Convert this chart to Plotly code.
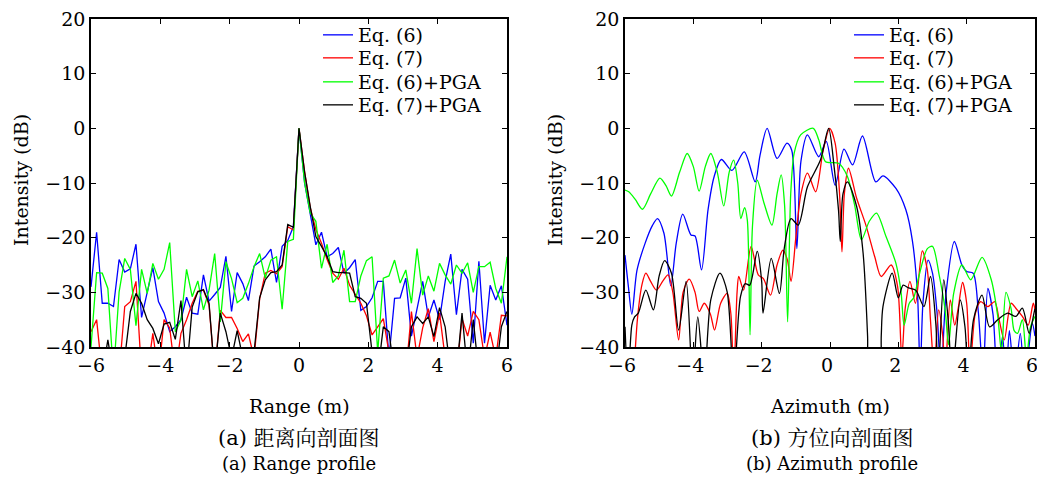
import numpy as np
import plotly.graph_objects as go

# ---------------- Left: range profile (sampled) ----------------
range_x = np.linspace(-6, 6, 75)
range_eq6 = [-29, -19, -32, -32, -32.6, -24, -26.3, -25.7, -21.2, -34.6,
             -30, -25.5, -31.7, -33.8, -37.2, -36.3, -35, -30.9, -33.8, -34,
             -26.8, -31.6, -30.4, -29.1, -23.4, -33.5, -26.4, -28.4, -31.5, -25.2,
             -24.4, -23.5, -22.1, -28.2, -21.6, -20.5, -18, 0, -10, -15.5,
             -21.3, -19, -23.5, -22.9, -21.8, -26.5, -25.5, -24, -33.3, -32.6,
             -31, -28, -28, -42, -31.1, -31, -27.4, -38, -32.9, -28,
             -34.5, -31.4, -35, -28, -23, -34.1, -25.8, -27.6, -39.3, -24.3,
             -39.3, -28.7, -31.4, -28.8, -36]
range_eq7 = [-37.2, -35, -45, -45, -45, -45, -32.6, -31.7, -28, -45,
             -45, -37.5, -45, -35, -36.5, -45, -37.5, -35, -32, -29.8,
             -29.6, -32.3, -45, -33.3, -34.6, -34.6, -36.6, -39, -37.6, -42,
             -31.2, -26.5, -26, -26.6, -25.3, -18, -18.6, 0, -8, -14.5,
             -18.5, -21, -24, -26.5, -27.6, -25.6, -28.7, -30.3, -32, -34.3,
             -37.8, -36.3, -34.8, -41, -45, -45, -45, -33.5, -42, -36.5,
             -33, -39, -33.8, -42, -45, -45, -34.8, -38, -33.5, -35,
             -42, -37.3, -42, -34.2, -34.3]
range_eq6_pga = [-40, -26.4, -26.5, -29.3, -45, -29.9, -23.8, -25.8, -36.1, -25.8,
                 -30.2, -24.7, -27.6, -25.8, -20.9, -37.2, -35.1, -25.8, -30.8, -27.9,
                 -33.2, -29.6, -22.9, -35.4, -24.4, -27.5, -31.9, -31.1, -28.4, -25.3,
                 -22.9, -27.4, -24.1, -23.5, -33.1, -20.7, -20.3, 0, -10, -15.5,
                 -17, -25.6, -21.2, -28.2, -27, -22.3, -31.7, -31.7, -27, -24.2,
                 -23.5, -41, -27.4, -27, -24.1, -28.3, -25.9, -32, -22, -30.5,
                 -27, -29.8, -24.7, -26.8, -28.5, -25, -26.5, -24.6, -30, -25.3,
                 -25.3, -24.5, -29.3, -32, -23.5]
range_eq7_pga = [-45, -45, -45, -38.7, -45, -45, -42, -33.5, -30.2, -32,
                 -35, -36.6, -39.4, -35.8, -35.5, -38.6, -31.5, -45, -32.7, -29.9,
                 -29.5, -32, -45, -33.8, -37.2, -42, -37, -42, -45, -41,
                 -31, -27.7, -26.4, -26.2, -25, -17.6, -18.1, 0, -8, -14.3,
                 -19.8, -21.6, -23.5, -26.2, -26.4, -26.4, -26.5, -30.8, -31.1, -32,
                 -41, -45, -36.3, -37.2, -45, -45, -45, -36.3, -34.5, -35.7,
                 -34.5, -38.1, -32.8, -36.3, -45, -45, -33.8, -45, -35, -45,
                 -45, -45, -45, -36.3, -33.5]

# ---------------- Right: azimuth profile (smooth) ----------------
az_eq6_x = [-6.0, -5.9, -5.8, -5.65, -5.41, -5.2, -5.05, -4.86, -4.66, -4.5, -4.31, -4.07, -3.95, -3.76,
            -3.57, -3.39, -3.18, -2.87, -2.51, -2.19, -2.05, -1.84, -1.55, -1.26, -1.12, -0.97, -0.85,
            -0.66, -0.33, -0.11, 0.15, 0.41, 0.66, 0.95, 1.34, 1.55, 1.93, 2.22, 2.41, 2.56, 2.64, 2.72,
            2.87, 3.0, 3.13, 3.25, 3.4, 3.64, 3.86, 4.0, 4.19, 4.34, 4.48, 4.62, 4.77, 4.9, 5.05, 5.15,
            5.25, 5.4, 5.57, 5.7, 5.92, 6.0]
az_eq6_y = [-23.2, -29, -34, -26, -21, -17.8, -16.5, -19.2, -28.8, -21, -15.7, -19.5, -19.7, -25.9,
            -14.9, -8.8, -5.7, -7.7, -4.3, -9.8, -5, 0, -5.5, -2.7, -4, -22, -6,
            -1.2, -5.2, -2.4, -10.4, -3.8, -6.7, -1.4, -9.8, -8.7, -11, -14.9, -20.5, -30.2, -45, -32,
            -24.1, -26.5, -33.5, -45, -30, -20.7, -25, -26.2, -26.5, -33.5, -45, -29.3, -34, -46, -38, -46,
            -37, -46, -37.5, -46, -35.7, -38]

az_eq7_x = [-5.75, -5.63, -5.5, -5.39, -5.25, -5.08, -4.9, -4.74, -4.6, -4.43, -4.3, -4.12, -3.95, -3.83,
            -3.68, -3.5, -3.38, -3.2, -3.01, -2.9, -2.82, -2.72, -2.67, -2.53, -2.31, -2.1, -1.95, -1.74,
            -1.55, -1.38, -1.25, -1.14, -1.0, -0.85, -0.66, -0.42, -0.2, -0.01, 0.15, 0.28, 0.35, 0.42,
            0.54, 0.78, 1.05, 1.31, 1.5, 1.79, 1.98, 2.1, 2.2, 2.34, 2.5, 2.7, 2.85, 2.94, 3.05, 3.18,
            3.3, 3.37, 3.52, 3.65, 3.75, 3.88, 4.0, 4.1, 4.25, 4.41, 4.62, 4.82, 4.95, 5.1, 5.3, 5.45,
            5.63, 5.8, 5.95, 6.0]
az_eq7_y = [-46, -34.5, -28.5, -26.5, -28, -29.6, -28, -26.8, -30, -38.7, -30, -27.6, -30, -33.5,
            -32, -34, -36.9, -32, -30.2, -34, -46, -30, -27.1, -29.6, -21.6, -26.8, -27.5, -30.5,
            -25, -22.3, -24, -28, -20, -12, -8.2, -11.6, -4, 0, -2.7, -12, -22.6, -12,
            -7.3, -12.8, -17.7, -23.5, -27.1, -25, -29, -42, -33, -28, -32, -22.4, -26, -35, -44, -33.2,
            -38, -45, -31.4, -36, -33, -28.2, -32, -44, -34, -31.7, -32.6, -31.7, -35, -38.7, -32, -33,
            -34.4, -36, -32, -33.2]

az_eq6_pga_x = [-6.0, -5.89, -5.7, -5.49, -5.25, -4.98, -4.8, -4.64, -4.4, -4.18, -4.0, -3.83, -3.65,
                -3.49, -3.3, -3.11, -2.95, -2.82, -2.7, -2.61, -2.5, -2.42, -2.34, -2.27, -2.13, -1.93,
                -1.7, -1.55, -1.43, -1.33, -1.24, -1.15, -1.05, -0.86, -0.49, -0.33, -0.13, 0.25, 0.51,
                0.72, 0.92, 1.15, 1.36, 1.64, 1.93, 2.08, 2.17, 2.32, 2.45, 2.6, 2.85, 3.0, 3.2, 3.37,
                3.47, 3.62, 3.86, 4.12, 4.45, 4.72, 4.91, 5.02, 5.15, 5.3, 5.39, 5.49, 5.63, 5.75, 5.87, 6.0]
az_eq6_pga_y = [-11.3, -11.6, -13, -14.8, -12, -9.1, -10.5, -12.4, -8, -4.6, -7, -11.5, -7,
                -4.6, -8, -14.2, -8, -5.8, -10, -16.5, -14.5, -16.8, -37.8, -18, -9.5, -13.7,
                -17.7, -12, -8.5, -14, -35.4, -12, -4.6, -1.2, 0, -2.1, -6.1, -6.4, -8.8,
                -14, -20.4, -17, -15.5, -19.8, -24.7, -30, -36, -32, -31, -27.1, -22, -21.6, -27, -33.2,
                -39.6, -30.2, -25, -27.7, -23.6, -27.7, -34.4, -41, -30, -33, -37, -37.5, -35, -42, -36.3, -34.4]

az_eq7_pga_x = [-6.0, -5.91, -5.8, -5.72, -5.61, -5.39, -5.17, -5.0, -4.84, -4.64, -4.43, -4.21, -4.02,
                -3.87, -3.68, -3.49, -3.22, -3.01, -2.82, -2.62, -2.48, -2.35, -2.13, -2.0, -1.96, -1.72,
                -1.48, -1.34, -1.14, -0.93, -0.66, -0.28, -0.04, 0.12, 0.25, 0.3, 0.38, 0.51, 0.78, 0.97,
                1.1, 1.16, 1.43, 1.5, 1.55, 1.82, 2.0, 2.14, 2.3, 2.51, 2.75, 2.94, 3.1, 3.16, 3.33, 3.47,
                3.57, 3.81, 3.95, 4.05, 4.2, 4.45, 4.67, 4.91, 5.2, 5.44, 5.63, 5.83, 5.97, 6.0]
az_eq7_pga_y = [-36.3, -46, -36, -34.5, -33.8, -29.6, -33.2, -27, -24.2, -26.5, -36.9, -28, -46,
                -34.5, -46, -31.4, -26.5, -29.9, -46, -30.8, -28.4, -28.7, -22.5, -28, -33.8, -23.8,
                -30.2, -22, -16.5, -17.7, -10.7, -5.8, 0, -7, -15, -20.7, -12, -9.8, -14.3, -22.9,
                -38, -50, -50, -38, -32.6, -26.5, -31, -28.7, -29.2, -29.6, -32.6, -27.1, -36, -46, -27.7, -36,
                -46, -31.4, -36.3, -46, -35, -30.5, -36.3, -35, -33.8, -34.4, -32.9, -37.5, -33.8, -33]

series_names = ["Eq. (6)", "Eq. (7)", "Eq. (6)+PGA", "Eq. (7)+PGA"]
series_colors = ["#0000FF", "#FF0000", "#00FF00", "#000000"]

x_ticks = [-6, -4, -2, 0, 2, 4, 6]
y_ticks = [-40, -30, -20, -10, 0, 10, 20]

FONT = "'DejaVu Serif', 'Noto Serif CJK SC', 'Noto Sans CJK SC', serif"
FS = 19

# the page body has an 8 px margin on every side; keep the figure inside the
# window (no scrollbars) and work in target-picture pixels
OFF = 8
W, H = 1045 - 2 * OFF, 484 - 2 * OFF
def px_x(p):
    return (p - OFF) / W
def px_y(p):
    return (H - (p - OFF)) / H

fig = go.Figure()

left_sets = [range_eq6, range_eq7, range_eq6_pga, range_eq7_pga]
for i, (name, color, ys) in enumerate(zip(series_names, series_colors, left_sets)):
    fig.add_trace(go.Scatter(x=range_x, y=ys, mode="lines", name=name,
                             line=dict(color=color, width=1.3),
                             xaxis="x", yaxis="y",
                             legend="legend" if i == 0 else f"legend{i + 1}"))

right_sets = [(az_eq6_x, az_eq6_y), (az_eq7_x, az_eq7_y),
              (az_eq6_pga_x, az_eq6_pga_y), (az_eq7_pga_x, az_eq7_pga_y)]
for i, (name, color, (xs, ys)) in enumerate(zip(series_names, series_colors, right_sets)):
    fig.add_trace(go.Scatter(x=xs, y=ys, mode="lines", name=name,
                             line=dict(color=color, width=1.3, shape="spline", smoothing=0.8),
                             xaxis="x2", yaxis="y2", legend=f"legend{i + 5}"))

ax_common = dict(showgrid=False, zeroline=False, showline=True, linecolor="black",
                 linewidth=1.5, mirror="ticks", ticks="inside", ticklen=5,
                 tickcolor="black", tickwidth=1, automargin=False,
                 ticklabeloverflow="allow",
                 tickfont=dict(family=FONT, size=FS, color="black"))

legend_rows = [35, 58, 82, 105]
legends = {}
for i, row in enumerate(legend_rows):
    for j, left_px in enumerate([318, 849]):
        idx = i + 1 + 4 * j
        key = "legend" if idx == 1 else f"legend{idx}"
        legends[key] = dict(x=px_x(left_px), y=px_y(row), xanchor="left", yanchor="middle",
                            bgcolor="rgba(0,0,0,0)", borderwidth=0,
                            font=dict(family=FONT, size=FS, color="black"), itemwidth=30)

fig.update_layout(
    width=W, height=H,
    margin=dict(l=0, r=0, t=0, b=0, autoexpand=False),
    paper_bgcolor="white", plot_bgcolor="white",
    font=dict(family=FONT, size=FS, color="black"),
    xaxis=dict(domain=[px_x(91), px_x(507)], range=[-6, 6], tickvals=x_ticks,
               anchor="y", **ax_common),
    yaxis=dict(domain=[px_y(347), px_y(19)], range=[-40, 20], tickvals=y_ticks,
               anchor="x", **ax_common),
    xaxis2=dict(domain=[px_x(625), px_x(1035)], range=[-6, 6], tickvals=x_ticks,
                anchor="y2", ticklabelshift=-3, **ax_common),
    yaxis2=dict(domain=[px_y(347), px_y(19)], range=[-40, 20], tickvals=y_ticks,
                anchor="x2", **ax_common),
    showlegend=True,
    **legends,
)

annos = [
    dict(text="Range (m)", x=px_x(299), y=px_y(406), size=FS),
    dict(text="Azimuth (m)", x=px_x(830), y=px_y(406), size=FS),
    dict(text="(a) 距离向剖面图", x=px_x(299), y=px_y(438), size=21),
    dict(text="(a) Range profile", x=px_x(299), y=px_y(463), size=18),
    dict(text="(b) 方位向剖面图", x=px_x(832), y=px_y(438), size=21),
    dict(text="(b) Azimuth profile", x=px_x(832), y=px_y(463), size=18),
    dict(text="Intensity (dB)", x=px_x(21), y=px_y(180), textangle=-90, size=19),
    dict(text="Intensity (dB)", x=px_x(555), y=px_y(180), textangle=-90, size=19),
]
for a in annos:
    sz = a.pop("size")
    fig.add_annotation(xref="paper", yref="paper", xanchor="center", yanchor="middle",
                       showarrow=False, font=dict(family=FONT, size=sz, color="black"), **a)

fig.write_html("out.html")
